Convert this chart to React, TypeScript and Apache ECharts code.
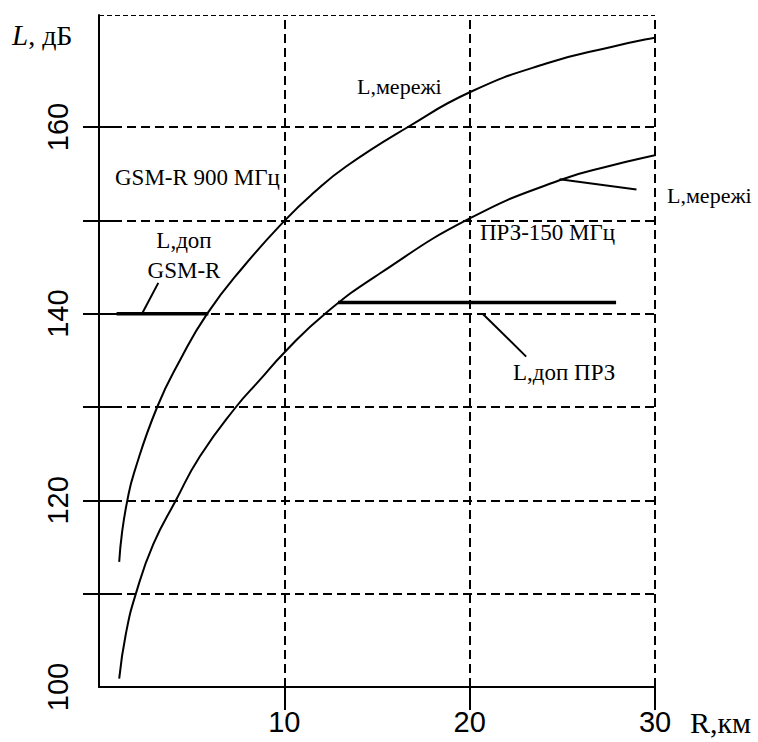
import React, { useEffect, useRef } from "react";
import * as echarts from "echarts";

// Distance R, km and loss L, dB
const R_GSM = [1.09, 1.24, 1.53, 1.9, 3.14, 4.37, 5.84, 7.78, 10.03, 11.55, 13.35, 16.67, 20.09, 24.13, 27.7, 30.06, 30.6];
const L_GSM = [113.4, 116.5, 120, 123.0, 130, 135, 140, 145, 150, 152.9, 155.8, 160, 163.8, 166.8, 168.6, 169.6, 169.75];

const R_PRZ = [1.09, 1.45, 1.99, 2.93, 4.15, 5.44, 7.39, 8.68, 10.03, 12.2, 15.15, 20.0, 24.85, 27.7, 30.06, 30.6];
const L_PRZ = [100.9, 105.7, 110, 115.3, 120, 124.7, 130, 132.9, 135.9, 140, 144.3, 150.2, 154.3, 155.9, 157.0, 157.2];

// Permissible loss levels (horizontal segments)
const DOP_GSM_R = [0.95, 5.9];
const DOP_GSM_L = 140;
const DOP_PRZ_R = [12.9, 27.9];
const DOP_PRZ_L = 141.2;

// Leader lines of the annotations
const PTR_GSM = [[2.32, 140.0], [3.2, 143.3]];
const PTR_NET2 = [[24.85, 154.4], [29.0, 153.3]];
const PTR_PRZ = [[20.7, 140.0], [23.05, 135.4]];

// Axes
const X_MIN = 0;
const X_MAX = 30;
const Y_MIN = 100;
const Y_MAX = 172;
const X_TICKS = [10, 20, 30];
const Y_TICKS = [110, 120, 130, 140, 150, 160];
const Y_LABELS = [100, 120, 140, 160];
const GRID_X = [10, 20, 30];
const GRID_Y = [110, 120, 130, 140, 150, 160];

const SERIF = "Liberation Serif";
const SANS = "Liberation Sans";

export default function App() {
  const ref = useRef<HTMLDivElement>(null);
  useEffect(() => {
    if (!ref.current) return;
    const chart = echarts.init(ref.current, undefined, { renderer: "svg" });
    const zip = (xs: number[], ys: number[]) => xs.map((x, i) => [x, ys[i]]);
    const gridDash = { type: [9, 5] as any, width: 2, color: "#000" };
    const txt = (text: string, x: number, y: number, size = 23, align = "left") => ({
      type: "text",
      x,
      y,
      silent: true,
      style: {
        text,
        fontSize: size,
        fontFamily: SERIF,
        fill: "#000",
        align,
        verticalAlign: "middle",
      },
    });
    chart.setOption({
      animation: false,
      backgroundColor: "#fff",
      grid: { left: 99, right: 103, top: 15, bottom: 55, containLabel: false },
      xAxis: {
        type: "value",
        min: X_MIN,
        max: X_MAX,
        interval: 10,
        axisLine: { show: true, onZero: false, lineStyle: { color: "#000", width: 2 } },
        axisTick: { show: true, length: 23, customValues: X_TICKS, lineStyle: { color: "#000", width: 2 } },
        axisLabel: {
          customValues: X_TICKS,
          margin: 20,
          color: "#000",
          fontSize: 29,
          fontFamily: SANS,
        },
        splitLine: { show: false },
      },
      yAxis: [
        {
          type: "value",
          position: "left",
          min: Y_MIN,
          max: Y_MAX,
          interval: 10,
          axisLine: { show: true, onZero: false, lineStyle: { color: "#000", width: 2 } },
          axisTick: { show: true, length: 16, customValues: Y_TICKS, lineStyle: { color: "#000", width: 2 } },
          axisLabel: {
            customValues: Y_LABELS,
            rotate: 90,
            margin: 27,
            color: "#000",
            fontSize: 29,
            fontFamily: SANS,
          },
          splitLine: { show: false },
        },
        {
          type: "value",
          position: "left",
          min: Y_MIN,
          max: Y_MAX,
          interval: 10,
          axisLine: { show: false },
          axisTick: { show: true, inside: true, length: 14, customValues: Y_TICKS, lineStyle: { color: "#000", width: 2 } },
          axisLabel: { show: false },
          splitLine: { show: false },
        },
      ],
      series: [
        {
          name: "GSM-R 900",
          type: "line",
          data: zip(R_GSM, L_GSM),
          smooth: 0.5,
          showSymbol: false,
          clip: false,
          lineStyle: { color: "#000", width: 2 },
          markLine: {
            silent: true,
            symbol: "none",
            label: { show: false },
            animation: false,
            data: [
              ...GRID_Y.map((v) => ({ yAxis: v, lineStyle: gridDash })),
              ...GRID_X.map((v) => ({ xAxis: v, lineStyle: gridDash })),
              { yAxis: Y_MAX, lineStyle: { type: [5, 3], width: 1, color: "#000" } },
            ],
          },
          z: 3,
        },
        {
          name: "ПРЗ-150",
          type: "line",
          data: zip(R_PRZ, L_PRZ),
          smooth: 0.5,
          showSymbol: false,
          clip: false,
          lineStyle: { color: "#000", width: 2 },
          z: 3,
        },
        {
          name: "L,доп GSM-R",
          type: "line",
          data: DOP_GSM_R.map((r) => [r, DOP_GSM_L]),
          showSymbol: false,
          lineStyle: { color: "#000", width: 3.5 },
          z: 4,
        },
        {
          name: "L,доп ПРЗ",
          type: "line",
          data: DOP_PRZ_R.map((r) => [r, DOP_PRZ_L]),
          showSymbol: false,
          lineStyle: { color: "#000", width: 3.5 },
          z: 4,
        },
        ...[PTR_GSM, PTR_NET2, PTR_PRZ].map((p) => ({
          type: "line",
          data: p,
          showSymbol: false,
          lineStyle: { color: "#000", width: 2 },
          z: 4,
        })),
      ],
      graphic: [
        {
          type: "text",
          x: 12,
          y: 35,
          silent: true,
          style: {
            text: "{i|L}{n|, дБ}",
            verticalAlign: "middle",
            rich: {
              i: { fontStyle: "italic", fontSize: 29, fontFamily: SERIF, fill: "#000" },
              n: { fontSize: 28, fontFamily: SERIF, fill: "#000" },
            },
          },
        },
        txt("L,мережі", 357, 86, 22),
        txt("GSM-R 900 МГц", 115, 177, 23),
        txt("L,доп", 184, 240, 23, "center"),
        txt("GSM-R", 184, 270, 23, "center"),
        txt("L,мережі", 667, 195, 22),
        txt("ПРЗ-150 МГц", 480, 232, 23),
        txt("L,доп ПРЗ", 513, 372, 23),
        txt("R,км", 690, 722, 30),
      ],
    });
    return () => chart.dispose();
  }, []);
  return (
    <div
      ref={ref}
      style={{ position: "fixed", left: 0, top: 0, width: 758, height: 742, background: "#fff" }}
    />
  );
}
